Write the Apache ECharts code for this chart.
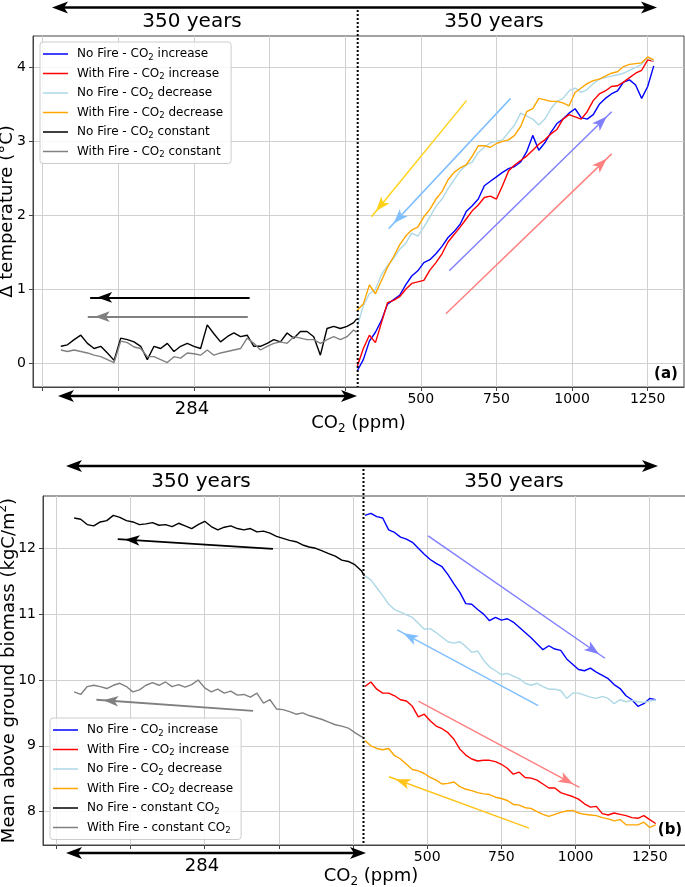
<!DOCTYPE html>
<html>
<head>
<meta charset="utf-8">
<script src="https://cdn.jsdelivr.net/npm/echarts@6/dist/echarts.min.js"></script>
<style>
html, body { margin: 0; padding: 0; background: #fff; }
#chart { width: 685px; height: 887px; }
</style>
</head>
<body>
<div id="chart"></div>
<script>
// x positions of the 350 constant-CO2 years (drawn left of the dotted line)
var xConst = [-690, -668, -646, -624, -602, -580, -558, -536, -514, -492,
    -470, -448, -426, -404, -382, -360, -338, -316, -294, -272,
    -250, -228, -206, -184, -162, -140, -118, -96, -74, -52,
    -30, -8, 14, 36, 58, 80, 102, 124, 146, 168,
    190, 212, 234, 256, 278, 288];
// CO2 (ppm) for the increase / decrease runs
var co2 = [290, 310, 330, 350, 370, 390, 410, 430, 450, 470,
    490, 510, 530, 550, 570, 590, 610, 630, 650, 670,
    690, 710, 730, 750, 770, 790, 810, 830, 850, 870,
    890, 910, 930, 950, 970, 990, 1010, 1030, 1050, 1070,
    1090, 1110, 1130, 1150, 1170, 1190, 1210, 1230, 1250, 1270];

// (a) temperature change
var tempNoFireConst = [0.23, 0.25, 0.32, 0.38, 0.27, 0.20, 0.23, 0.14, 0.04, 0.34,
    0.32, 0.29, 0.23, 0.05, 0.23, 0.20, 0.27, 0.16, 0.23, 0.27,
    0.23, 0.20, 0.52, 0.40, 0.29, 0.36, 0.41, 0.36, 0.38, 0.23,
    0.23, 0.27, 0.32, 0.29, 0.41, 0.34, 0.43, 0.43, 0.36, 0.11,
    0.47, 0.50, 0.47, 0.50, 0.55, 0.60];
var tempFireConst = [0.18, 0.16, 0.18, 0.16, 0.14, 0.11, 0.09, 0.05, 0.01, 0.30,
    0.28, 0.22, 0.20, 0.09, 0.09, 0.05, 0.01, 0.09, 0.07, 0.14,
    0.13, 0.11, 0.18, 0.11, 0.14, 0.16, 0.18, 0.20, 0.34, 0.27,
    0.18, 0.23, 0.27, 0.29, 0.27, 0.36, 0.34, 0.32, 0.32, 0.27,
    0.32, 0.36, 0.32, 0.36, 0.45, 0.42];
var tempNoFireUp = [-0.10, 0.05, 0.30, 0.42, 0.58, 0.80, 0.86, 0.92, 1.06, 1.18,
    1.25, 1.36, 1.40, 1.48, 1.58, 1.70, 1.78, 1.88, 2.05, 2.13,
    2.22, 2.40, 2.46, 2.52, 2.58, 2.63, 2.66, 2.72, 2.86, 3.08,
    2.88, 2.98, 3.12, 3.24, 3.30, 3.38, 3.44, 3.32, 3.30, 3.36,
    3.50, 3.58, 3.64, 3.68, 3.80, 3.83, 3.76, 3.58, 3.74, 4.02];
var tempFireUp = [-0.04, 0.20, 0.38, 0.28, 0.55, 0.82, 0.85, 0.90, 1.00, 1.08,
    1.10, 1.12, 1.26, 1.36, 1.48, 1.64, 1.74, 1.84, 1.95, 2.06,
    2.14, 2.24, 2.26, 2.22, 2.40, 2.60, 2.68, 2.74, 2.80, 2.88,
    2.96, 3.02, 3.10, 3.16, 3.30, 3.36, 3.33, 3.30, 3.40, 3.55,
    3.64, 3.68, 3.74, 3.75, 3.80, 3.86, 3.92, 3.96, 4.10, 4.08];
var tempNoFireDown = [0.50, 0.78, 0.94, 1.00, 1.20, 1.32, 1.42, 1.54, 1.62, 1.76,
    1.72, 1.84, 1.98, 2.12, 2.22, 2.36, 2.48, 2.60, 2.68, 2.72,
    2.85, 2.92, 2.98, 3.00, 3.02, 3.12, 3.22, 3.38, 3.34, 3.30,
    3.22, 3.30, 3.44, 3.54, 3.58, 3.68, 3.72, 3.66, 3.70, 3.78,
    3.84, 3.86, 3.88, 3.90, 3.92, 3.96, 4.00, 4.04, 4.14, 4.08];
var tempFireDown = [0.72, 0.80, 1.06, 0.94, 1.12, 1.30, 1.44, 1.60, 1.72, 1.80,
    1.84, 1.98, 2.08, 2.22, 2.32, 2.48, 2.58, 2.64, 2.68, 2.80,
    2.94, 2.94, 2.92, 2.97, 3.00, 3.02, 3.08, 3.20, 3.40, 3.44,
    3.58, 3.56, 3.54, 3.54, 3.52, 3.48, 3.66, 3.72, 3.78, 3.82,
    3.84, 3.88, 3.92, 3.94, 4.01, 4.04, 4.05, 4.06, 4.14, 4.10];

// (b) mean above ground biomass
var bioNoFireConst = [12.46, 12.44, 12.36, 12.34, 12.40, 12.42, 12.50, 12.47, 12.42, 12.40,
    12.36, 12.37, 12.39, 12.35, 12.36, 12.33, 12.38, 12.34, 12.30, 12.36,
    12.41, 12.33, 12.28, 12.32, 12.34, 12.30, 12.28, 12.30, 12.25, 12.26,
    12.23, 12.18, 12.15, 12.12, 12.10, 12.05, 12.02, 12.00, 11.96, 11.92,
    11.88, 11.82, 11.80, 11.75, 11.66, 11.58];
var bioFireConst = [9.82, 9.78, 9.90, 9.92, 9.90, 9.87, 9.92, 9.95, 9.90, 9.82,
    9.85, 9.92, 9.96, 9.92, 9.97, 9.90, 9.93, 9.89, 9.93, 10.00,
    9.88, 9.82, 9.86, 9.80, 9.83, 9.77, 9.78, 9.74, 9.80, 9.65,
    9.70, 9.56, 9.55, 9.52, 9.48, 9.50, 9.46, 9.43, 9.40, 9.36,
    9.32, 9.30, 9.27, 9.20, 9.14, 9.12];
var bioNoFireUp = [12.50, 12.53, 12.48, 12.46, 12.28, 12.24, 12.17, 12.14, 12.09, 12.00,
    11.91, 11.83, 11.77, 11.72, 11.60, 11.46, 11.33, 11.16, 11.15, 11.07,
    11.00, 10.90, 10.95, 10.91, 10.93, 10.88, 10.80, 10.72, 10.64, 10.55,
    10.46, 10.52, 10.47, 10.45, 10.32, 10.24, 10.16, 10.14, 10.18, 10.12,
    10.07, 10.02, 9.93, 9.87, 9.76, 9.70, 9.60, 9.64, 9.72, 9.70];
var bioFireUp = [9.90, 9.97, 9.86, 9.80, 9.80, 9.76, 9.70, 9.68, 9.60, 9.44,
    9.48, 9.38, 9.30, 9.26, 9.20, 9.10, 8.95, 8.86, 8.80, 8.77,
    8.78, 8.78, 8.76, 8.72, 8.66, 8.57, 8.60, 8.52, 8.51, 8.48,
    8.42, 8.36, 8.36, 8.29, 8.26, 8.23, 8.19, 8.12, 8.07, 8.08,
    7.97, 7.95, 7.98, 7.96, 7.94, 7.91, 7.90, 7.94, 7.88, 7.82];
var bioNoFireDown = [11.58, 11.52, 11.40, 11.28, 11.15, 11.07, 11.03, 10.99, 10.95, 10.86,
    10.77, 10.78, 10.72, 10.65, 10.58, 10.56, 10.58, 10.51, 10.42, 10.44,
    10.30, 10.20, 10.14, 10.08, 10.10, 10.06, 10.02, 9.95, 9.92, 9.95,
    9.90, 9.86, 9.86, 9.84, 9.72, 9.80, 9.80, 9.77, 9.74, 9.72,
    9.75, 9.72, 9.64, 9.70, 9.67, 9.69, 9.67, 9.66, 9.68, 9.70];
var bioFireDown = [9.08, 9.00, 8.96, 8.94, 8.96, 8.85, 8.80, 8.72, 8.64, 8.62,
    8.58, 8.52, 8.48, 8.42, 8.43, 8.45, 8.38, 8.34, 8.32, 8.29,
    8.27, 8.26, 8.22, 8.20, 8.17, 8.11, 8.10, 8.06, 8.05, 8.00,
    7.96, 7.93, 7.96, 7.99, 8.01, 8.02, 7.98, 7.96, 7.95, 7.94,
    7.91, 7.89, 7.86, 7.88, 7.80, 7.80, 7.80, 7.84, 7.76, 7.80];

// direction arrows, [tail, tip] in data units
var arrowsTemp = [
    [[-66, 0.89], [-593, 0.89]],
    [[-72, 0.63], [-601, 0.63]],
    [[651, 3.55], [337, 1.98]],
    [[797, 3.58], [394, 1.82]],
    [[594, 1.25], [1131, 3.40]],
    [[583, 0.67], [1131, 2.83]]
];
var arrowsBio = [
    [[-20, 11.99], [-543, 12.14]],
    [[-87, 9.53], [-615, 9.70]],
    [[503, 12.19], [1099, 10.33]],
    [[874, 9.61], [399, 10.76]],
    [[470, 9.68], [1013, 8.37]],
    [[843, 7.75], [371, 8.53]]
];

var xTicks = [-750, -500, -250, 0, 250, 500, 750, 1000, 1250];
var xTickLabels = [500, 750, 1000, 1250];
var tempTicks = [0, 1, 2, 3, 4];
var bioTicks = [8, 9, 10, 11, 12];

var namesTemp = ['No Fire - CO2 increase', 'With Fire - CO2 increase', 'No Fire - CO2 decrease',
    'With Fire - CO2 decrease', 'No Fire - CO2 constant', 'With Fire - CO2 constant'];
var namesBio = ['No Fire - CO2 increase', 'With Fire - CO2 increase', 'No Fire - CO2 decrease',
    'With Fire - CO2 decrease', 'No Fire - constant CO2', 'With Fire - constant CO2'];

var FONT = 'DejaVu Sans';
var AXIS_COLOR = '#444';
var GRID_COLOR = '#d0d0d0';

var pairs = function (xs, ys) {
    return ys.map(function (v, i) { return [xs[i], v]; });
};

var lineSeries = function (name, xs, ys, color, gi) {
    return {
        type: 'line', name: name, xAxisIndex: gi, yAxisIndex: gi,
        data: pairs(xs, ys), symbol: 'none', showSymbol: false, silent: true,
        lineStyle: { color: color, width: 1.4 }, itemStyle: { color: color }
    };
};

var arrowSeries = function (arrows, colors, gi) {
    return {
        type: 'line', name: 'arrows' + gi, xAxisIndex: gi, yAxisIndex: gi, data: [],
        markLine: {
            silent: true, animation: false, label: { show: false },
            symbol: ['none', 'arrow'],
            data: arrows.map(function (a, i) {
                return [
                    { coord: a[0], lineStyle: { color: colors[i], width: i < 2 ? 1.8 : 1.5, type: 'solid' } },
                    { coord: a[1], symbolSize: [8, 15], symbolOffset: [0, 7] }
                ];
            })
        }
    };
};

var subFmt = function (name) {
    return name.replace('CO2', 'CO{sub|2}');
};

var axisX = function (gi, min, max, gap) {
    return {
        type: 'value', gridIndex: gi, min: min, max: max,
        axisLine: { show: true, onZero: false, lineStyle: { color: AXIS_COLOR } },
        axisTick: { show: true, customValues: xTicks, length: 4, lineStyle: { color: AXIS_COLOR } },
        axisLabel: {
            customValues: xTickLabels, fontSize: 14, fontFamily: FONT, color: '#000', margin: 5,
            formatter: function (v) { return String(v); }
        },
        splitLine: { show: true, lineStyle: { color: GRID_COLOR } },
        name: 'CO{sub|2} (ppm)', nameLocation: 'middle', nameGap: gap, nameMoveOverlap: false,
        nameTextStyle: {
            fontSize: 18, fontFamily: FONT, color: '#000', lineHeight: 24,
            rich: { sub: { fontSize: 12, fontFamily: FONT, lineHeight: 14, verticalAlign: 'bottom' } }
        }
    };
};

var axisY = function (gi, min, max, ticks, name, gap) {
    return {
        type: 'value', gridIndex: gi, min: min, max: max,
        axisLine: { show: true, onZero: false, lineStyle: { color: AXIS_COLOR } },
        axisTick: { show: true, customValues: ticks, length: 4, lineStyle: { color: AXIS_COLOR } },
        axisLabel: { customValues: ticks, fontSize: 14, fontFamily: FONT, color: '#000', margin: 7 },
        splitLine: { show: true, lineStyle: { color: GRID_COLOR } },
        name: name, nameLocation: 'middle', nameGap: gap, nameMoveOverlap: false,
        nameTextStyle: {
            fontSize: 18, fontFamily: FONT, color: '#000', lineHeight: 24,
            rich: { sup: { fontSize: 12, fontFamily: FONT, lineHeight: 12, verticalAlign: 'top' } }
        }
    };
};

var legendBox = function (names, left, top) {
    return {
        orient: 'vertical', left: left, top: top, data: names,
        icon: 'path://M0,0H25V1.5H0Z',
        padding: [4, 8, 4, 3], itemGap: 3.5, itemWidth: 25, itemHeight: 14,
        backgroundColor: 'rgba(255,255,255,0.85)', borderColor: '#cccccc', borderWidth: 1, borderRadius: 3,
        selectedMode: false, formatter: subFmt,
        textStyle: {
            fontSize: 12, fontFamily: FONT, color: '#000', lineHeight: 16, padding: [0, 0, 0, 4],
            rich: { sub: { fontSize: 8.5, fontFamily: FONT, lineHeight: 10, verticalAlign: 'bottom' } }
        }
    };
};

var txt = function (x, y, s, size, weight) {
    return {
        type: 'text', x: x, y: y, z: 20,
        style: {
            text: s, fontSize: size, fontFamily: FONT, fontWeight: weight || 'normal', fill: '#000',
            textAlign: 'center', textVerticalAlign: 'middle', align: 'center', verticalAlign: 'middle'
        }
    };
};

var head = function (x, y, dir) {
    return {
        type: 'polygon', z: 20,
        shape: { points: [[x, y], [x - dir * 16, y - 6], [x - dir * 12, y], [x - dir * 16, y + 6]] },
        style: { fill: '#000' }
    };
};

var dblArrow = function (x1, x2, y) {
    return [
        { type: 'line', z: 20, shape: { x1: x1 + 10, y1: y, x2: x2 - 10, y2: y }, style: { stroke: '#000', lineWidth: 2.5 } },
        head(x1, y, -1), head(x2, y, 1)
    ];
};

var dotted = function (x, y1, y2) {
    return { type: 'line', z: 20, shape: { x1: x, y1: y1, x2: x, y2: y2 }, style: { stroke: '#000', lineWidth: 2, lineDash: [2, 2] } };
};

var graphics = [].concat(
    dblArrow(52, 657, 7.5), dblArrow(58, 357, 396),
    dblArrow(66, 658, 466), dblArrow(66, 366, 853),
    [
        dotted(357.7, 10, 387), dotted(363.5, 469, 845),
        txt(192, 22, '350 years', 20), txt(494, 22, '350 years', 20),
        txt(201, 482, '350 years', 20), txt(514, 482, '350 years', 20),
        txt(192, 409, '284', 18), txt(202, 866, '284', 18),
        txt(666, 374, '(a)', 15, 'bold'), txt(670, 830, '(b)', 15, 'bold')
    ]
);

var chart = echarts.init(document.getElementById('chart'));
var option = {
    animation: false,
    textStyle: { fontFamily: FONT },
    grid: [
        { left: 33, top: 36, right: 1, bottom: 500, show: true, borderColor: AXIS_COLOR, borderWidth: 1, outerBoundsMode: 'none' },
        { left: 43, top: 496, right: -14, bottom: 42, show: true, borderColor: AXIS_COLOR, borderWidth: 1, outerBoundsMode: 'none' }
    ],
    xAxis: [axisX(0, -782, 1370, 24), axisX(1, -795, 1416, 19)],
    yAxis: [
        axisY(0, -0.32, 4.423, tempTicks, 'Δ temperature (°C)', 14),
        axisY(1, 7.494, 12.794, bioTicks, 'Mean above ground biomass (kgC/m{sup|2})', 22)
    ],
    legend: [legendBox(namesTemp, 40, 42), legendBox(namesBio, 50, 718)],
    series: [
        lineSeries(namesTemp[0], co2, tempNoFireUp, '#0000ff', 0),
        lineSeries(namesTemp[1], co2, tempFireUp, '#ff0000', 0),
        lineSeries(namesTemp[2], co2, tempNoFireDown, '#add8e6', 0),
        lineSeries(namesTemp[3], co2, tempFireDown, '#ffa500', 0),
        lineSeries(namesTemp[4], xConst, tempNoFireConst, '#000000', 0),
        lineSeries(namesTemp[5], xConst, tempFireConst, '#808080', 0),
        lineSeries(namesBio[0], co2, bioNoFireUp, '#0000ff', 1),
        lineSeries(namesBio[1], co2, bioFireUp, '#ff0000', 1),
        lineSeries(namesBio[2], co2, bioNoFireDown, '#add8e6', 1),
        lineSeries(namesBio[3], co2, bioFireDown, '#ffa500', 1),
        lineSeries(namesBio[4], xConst, bioNoFireConst, '#000000', 1),
        lineSeries(namesBio[5], xConst, bioFireConst, '#808080', 1),
        arrowSeries(arrowsTemp, ['#000000', '#808080', '#ffd21a', '#80bfff', '#8080ff', '#ff8080'], 0),
        arrowSeries(arrowsBio, ['#000000', '#808080', '#8080ff', '#80bfff', '#ff8080', '#ffc41a'], 1)
    ],
    graphic: graphics
};
chart.setOption(option);
</script>
</body>
</html>
